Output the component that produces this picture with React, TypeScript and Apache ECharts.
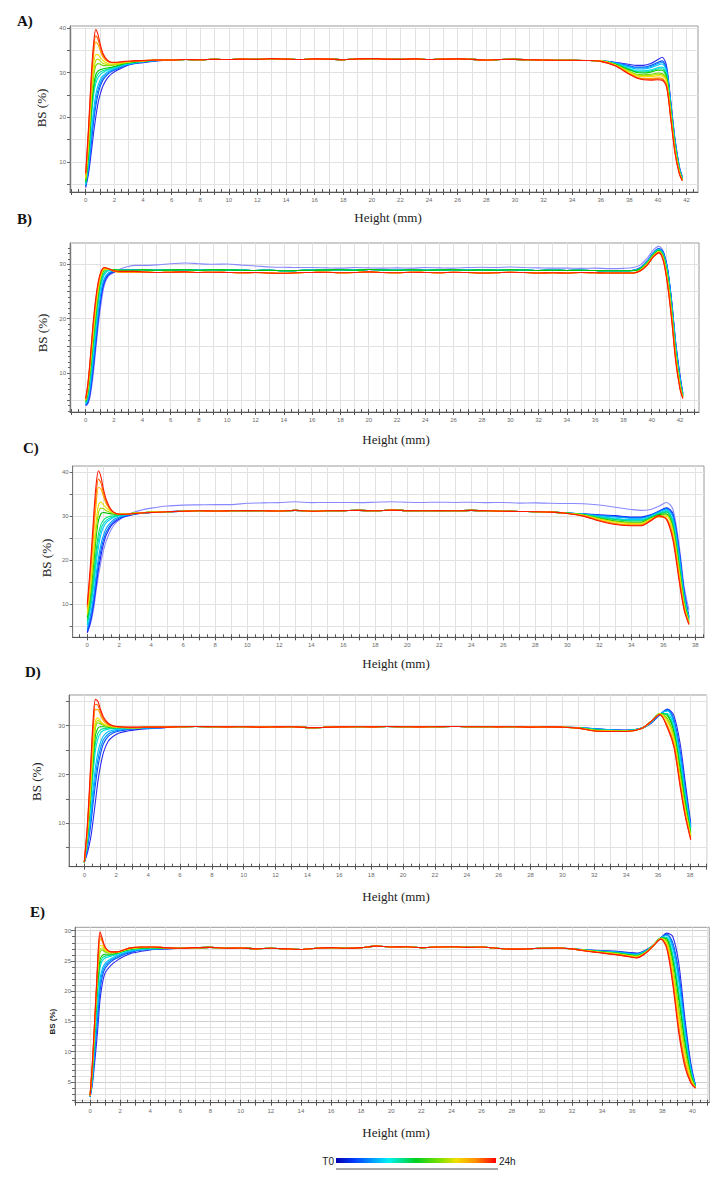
import React, { useEffect, useRef } from "react";
import * as echarts from "echarts";

// ---------------- Panel A ----------------
const A_xLabels = [0, 2, 4, 6, 8, 10, 12, 14, 16, 18, 20, 22, 24, 26, 28, 30, 32, 34, 36, 38, 40, 42];
const A_yLabels = [10, 20, 30, 40];
const A_yTicks = [5, 10, 15, 20, 25, 30, 35, 40];
const A_headX = [0, 0.2, 0.4, 0.55, 0.7, 0.85, 1.0, 1.2, 1.5, 1.8, 2.2, 2.7, 3.3, 4.0, 5.0];
const A_head = [
  [4.3, 7.5, 12.5, 16.5, 20, 23, 25, 27, 28.7, 29.7, 30.5, 31.3, 31.9, 32.2, 32.6],
  [4.6, 8.5, 14.5, 19, 22.5, 25, 26.8, 28.3, 29.5, 30.2, 30.8, 31.5, 32.0, 32.3, 32.7],
  [4.75, 9, 15.7, 20.2, 23.7, 26, 27.5, 28.8, 29.8, 30.4, 30.95, 31.6, 32.05, 32.35, 32.7],
  [4.9, 9.5, 17, 21.5, 25, 27, 28.3, 29.3, 30.1, 30.6, 31.1, 31.7, 32.1, 32.4, 32.7],
  [5.2, 11, 20, 25, 27.5, 28.8, 29.5, 30.0, 30.5, 30.9, 31.3, 31.8, 32.2, 32.5, 32.8],
  [5.35, 11.5, 21, 26, 28.5, 29.6, 30.1, 30.4, 30.75, 31.05, 31.4, 31.9, 32.25, 32.5, 32.8],
  [5.5, 12, 22, 27, 29.5, 30.3, 30.6, 30.8, 31.0, 31.2, 31.5, 32.0, 32.3, 32.5, 32.8],
  [6.0, 13.5, 24, 29, 31.5, 32, 31.9, 31.6, 31.5, 31.6, 31.8, 32.1, 32.4, 32.6, 32.8],
  [6.25, 14.2, 25, 30.2, 32.7, 33, 32.6, 32.1, 31.8, 31.75, 31.9, 32.2, 32.45, 32.6, 32.8],
  [6.5, 15, 26, 31.5, 34, 34, 33.4, 32.7, 32.1, 31.9, 32.0, 32.3, 32.5, 32.6, 32.8],
  [7.0, 16.5, 28, 34, 36.8, 36.3, 35, 33.5, 32.5, 32.2, 32.2, 32.4, 32.5, 32.6, 32.8],
  [7.3, 17.2, 29, 35.2, 38.2, 37.5, 35.8, 33.9, 32.65, 32.25, 32.25, 32.45, 32.55, 32.65, 32.8],
  [7.6, 18, 30, 36.5, 39.6, 38.6, 36.5, 34.3, 32.8, 32.3, 32.3, 32.5, 32.6, 32.7, 32.8],
];
const A_plateauX = [6, 7, 8, 9, 10, 11, 12, 13, 14, 15, 16, 17, 18, 19, 20, 21, 22, 23, 24, 25, 26, 27, 28, 29, 30, 31, 32, 33, 34, 35];
const A_plateau = [32.8, 32.9, 32.85, 32.95, 32.9, 33.0, 32.95, 33.1, 33.0, 32.9, 33.05, 33.0, 32.85, 33.05, 33.1, 33.0, 32.95, 33.05, 32.9, 33.0, 33.05, 32.95, 32.8, 32.9, 32.95, 32.85, 32.8, 32.75, 32.75, 32.7];
const A_tailX = [36, 37, 38, 38.5, 39, 39.5, 40, 40.3, 40.6, 40.9, 41.2, 41.5, 41.7];
const A_tail = [
  [32.6, 32.3, 31.8, 31.6, 31.6, 32.0, 32.9, 33.4, 31.5, 23.5, 15, 9, 6.8],
  [32.6, 32.2, 31.5, 31.2, 31.2, 31.6, 32.3, 32.6, 30.9, 23, 14.6, 8.7, 6.6],
  [32.6, 32.15, 31.35, 31.0, 31.0, 31.35, 32.0, 32.25, 30.6, 22.75, 14.4, 8.6, 6.5],
  [32.6, 32.1, 31.2, 30.8, 30.8, 31.1, 31.7, 31.9, 30.3, 22.5, 14.2, 8.5, 6.4],
  [32.6, 32.0, 30.9, 30.4, 30.4, 30.6, 31.1, 31.2, 29.7, 22, 13.8, 8.3, 6.3],
  [32.6, 31.95, 30.75, 30.2, 30.15, 30.35, 30.8, 30.85, 29.4, 21.75, 13.6, 8.2, 6.25],
  [32.6, 31.9, 30.6, 30.0, 29.9, 30.1, 30.5, 30.5, 29.1, 21.5, 13.4, 8.1, 6.2],
  [32.6, 31.8, 30.3, 29.6, 29.5, 29.6, 29.9, 29.8, 28.5, 21, 13, 7.9, 6.1],
  [32.6, 31.75, 30.15, 29.45, 29.3, 29.35, 29.6, 29.5, 28.2, 20.75, 12.8, 7.8, 6.05],
  [32.6, 31.7, 30.0, 29.3, 29.1, 29.1, 29.3, 29.2, 27.9, 20.5, 12.6, 7.7, 6.0],
  [32.5, 31.6, 29.8, 29.0, 28.7, 28.7, 28.8, 28.7, 27.3, 20, 12.2, 7.5, 5.9],
  [32.5, 31.55, 29.7, 28.9, 28.55, 28.5, 28.6, 28.5, 27.05, 19.75, 12, 7.4, 5.85],
  [32.5, 31.5, 29.6, 28.8, 28.4, 28.3, 28.4, 28.3, 26.8, 19.5, 11.8, 7.3, 5.8],
];

// ---------------- Panel B ----------------
const B_xLabels = [0, 2, 4, 6, 8, 10, 12, 14, 16, 18, 20, 22, 24, 26, 28, 30, 32, 34, 36, 38, 40, 42];
const B_yLabels = [10, 20, 30];
const B_yTicks = [5, 10, 15, 20, 25, 30];
const B_headX = [0, 0.15, 0.3, 0.5, 0.7, 0.9, 1.1, 1.3, 1.6, 2.0, 2.5, 3.0, 3.5, 4.0];
const B_head = [
  [4.0, 4.3, 5.5, 9, 14, 19, 23, 26, 27.8, 28.5, 29.2, 29.6, 29.8, 29.8],
  [4.0, 4.5, 6, 10, 15, 20, 24, 26.5, 28, 28.6, 28.9, 29.0, 29.0, 29.0],
  [4.1, 4.75, 6.5, 10.7, 15.7, 20.7, 24.6, 26.9, 28.2, 28.7, 28.9, 29.0, 29.0, 29.0],
  [4.2, 5, 7, 11.5, 16.5, 21.5, 25.2, 27.3, 28.4, 28.8, 28.9, 29.0, 29.0, 29.0],
  [4.4, 5.5, 8, 13, 18, 23, 26.3, 28.0, 28.8, 28.9, 28.9, 28.9, 28.9, 29.0],
  [4.5, 5.75, 8.5, 13.7, 18.7, 23.6, 26.8, 28.25, 28.9, 28.95, 28.9, 28.9, 28.9, 29.0],
  [4.6, 6, 9, 14.5, 19.5, 24.2, 27.2, 28.5, 29.0, 29.0, 28.9, 28.9, 28.9, 29.0],
  [4.8, 6.5, 10, 15.5, 20.5, 25, 27.8, 28.9, 29.1, 29.0, 28.9, 28.9, 28.9, 29.0],
  [4.9, 6.75, 10.4, 16, 21.1, 25.4, 28.0, 29.0, 29.1, 28.9, 28.7, 28.7, 28.7, 28.7],
  [5.0, 7, 10.8, 16.5, 21.7, 25.8, 28.2, 29.1, 29.1, 28.8, 28.6, 28.6, 28.6, 28.6],
  [5.1, 7.5, 11.5, 17.5, 22.6, 26.4, 28.5, 29.3, 29.2, 28.7, 28.5, 28.5, 28.5, 28.6],
  [5.2, 7.75, 11.75, 18, 23.1, 26.7, 28.65, 29.35, 29.2, 28.75, 28.6, 28.6, 28.6, 28.6],
  [5.3, 8, 12, 18.5, 23.5, 27, 28.8, 29.4, 29.2, 28.8, 28.7, 28.7, 28.7, 28.6],
];
const B_plateauX = [5, 6, 7, 8, 9, 10, 11, 12, 13, 14, 15, 16, 17, 18, 19, 20, 21, 22, 23, 24, 25, 26, 27, 28, 29, 30, 31, 32, 33, 34, 35, 36, 37];
const B_plateauT0 = [29.9, 30.1, 30.25, 30.1, 30.0, 30.05, 29.85, 29.7, 29.5, 29.45, 29.4, 29.4, 29.35, 29.3, 29.4, 29.35, 29.3, 29.35, 29.3, 29.4, 29.35, 29.3, 29.4, 29.45, 29.4, 29.5, 29.4, 29.35, 29.3, 29.3, 29.25, 29.3, 29.2];
const B_plateauCool = [28.9, 28.95, 29.0, 28.9, 29.0, 28.95, 28.9, 28.85, 28.9, 28.8, 28.85, 28.9, 28.95, 29.0, 28.9, 29.05, 28.95, 28.9, 29.0, 28.9, 28.95, 29.0, 28.9, 28.95, 28.9, 29.0, 28.95, 28.85, 28.9, 28.85, 28.9, 28.85, 28.8];
const B_plateauWarm = [28.5, 28.55, 28.6, 28.5, 28.55, 28.5, 28.45, 28.5, 28.4, 28.35, 28.45, 28.5, 28.55, 28.45, 28.5, 28.6, 28.5, 28.45, 28.55, 28.5, 28.45, 28.55, 28.5, 28.4, 28.45, 28.55, 28.5, 28.4, 28.45, 28.4, 28.5, 28.45, 28.4];
const B_tailX = [38, 38.7, 39.2, 39.7, 40.1, 40.5, 40.8, 41.1, 41.4, 41.7, 42.0, 42.2];
const B_tail = [
  [29.25, 29.4, 29.9, 31.2, 32.6, 33.3, 32.5, 29.5, 23, 15, 9, 6.3],
  [28.8, 28.9, 29.4, 30.7, 32.1, 32.9, 32.3, 29.5, 23.5, 15.5, 9.5, 6.2],
  [28.8, 28.9, 29.35, 30.65, 32.05, 32.85, 32.2, 29.35, 23.25, 15.25, 9.25, 6.1],
  [28.8, 28.9, 29.3, 30.6, 32.0, 32.8, 32.1, 29.2, 23, 15, 9, 6.0],
  [28.8, 28.85, 29.3, 30.5, 31.9, 32.7, 31.9, 28.8, 22.5, 14.5, 8.5, 5.9],
  [28.8, 28.85, 29.25, 30.45, 31.85, 32.65, 31.8, 28.6, 22.25, 14.25, 8.35, 5.85],
  [28.8, 28.85, 29.2, 30.4, 31.8, 32.6, 31.7, 28.4, 22, 14, 8.2, 5.8],
  [28.8, 28.8, 29.2, 30.3, 31.7, 32.5, 31.5, 28, 21.5, 13.5, 8, 5.7],
  [28.4, 28.4, 29.0, 30.2, 31.6, 32.4, 31.35, 27.75, 21.25, 13.25, 7.8, 5.6],
  [28.4, 28.4, 28.9, 30.1, 31.5, 32.3, 31.2, 27.5, 21, 13, 7.6, 5.5],
  [28.4, 28.4, 28.8, 30.0, 31.4, 32.2, 31.0, 27.0, 20.5, 12.5, 7.3, 5.4],
  [28.4, 28.4, 28.8, 29.95, 31.35, 32.15, 30.9, 26.75, 20.25, 12.25, 7.15, 5.35],
  [28.4, 28.4, 28.8, 29.9, 31.3, 32.1, 30.8, 26.5, 20, 12, 7, 5.3],
];

// ---------------- Panel C ----------------
const C_xLabels = [0, 2, 4, 6, 8, 10, 12, 14, 16, 18, 20, 22, 24, 26, 28, 30, 32, 34, 36, 38];
const C_yLabels = [10, 20, 30, 40];
const C_yTicks = [5, 10, 15, 20, 25, 30, 35, 40];
const C_headX = [0, 0.2, 0.4, 0.55, 0.7, 0.85, 1.0, 1.2, 1.5, 1.8, 2.2, 2.7, 3.3, 4.0, 5.0];
const C_head = [
  [3.5, 5.5, 9, 13, 16.5, 19.5, 22, 24.5, 27, 28.5, 29.7, 30.6, 31.3, 31.8, 32.3],
  [3.6, 6, 10, 14, 18, 21, 23.5, 25.8, 27.8, 28.9, 29.7, 30.2, 30.6, 30.8, 31.0],
  [4.0, 6.7, 11, 15.2, 19.2, 22.2, 24.5, 26.5, 28.2, 29.2, 29.85, 30.3, 30.65, 30.8, 31.0],
  [4.5, 7.5, 12, 16.5, 20.5, 23.5, 25.5, 27.3, 28.7, 29.5, 30.0, 30.4, 30.7, 30.8, 31.0],
  [5.3, 9, 14, 19, 23, 25.8, 27.4, 28.6, 29.4, 29.9, 30.2, 30.5, 30.7, 30.9, 31.0],
  [5.7, 9.7, 15.2, 20.5, 24.5, 26.9, 28.2, 29.1, 29.7, 30.0, 30.25, 30.5, 30.7, 30.9, 31.0],
  [6.2, 10.5, 16.5, 22, 26, 28, 29.0, 29.7, 30.0, 30.1, 30.3, 30.5, 30.7, 30.9, 31.0],
  [7, 12, 19, 25, 29, 30.5, 30.8, 30.7, 30.5, 30.4, 30.4, 30.6, 30.8, 30.9, 31.0],
  [7.5, 13, 20.7, 26.7, 30.7, 31.8, 31.7, 31.2, 30.75, 30.5, 30.45, 30.6, 30.8, 30.9, 31.0],
  [8, 14, 22.5, 28.5, 32.5, 33.2, 32.6, 31.8, 31.0, 30.6, 30.5, 30.6, 30.8, 30.9, 31.0],
  [9, 16.5, 26, 32.5, 36.5, 36.2, 34.6, 32.7, 31.2, 30.6, 30.4, 30.5, 30.7, 30.9, 31.0],
  [9.5, 17.7, 28, 34.7, 38.4, 37.6, 35.4, 33.1, 31.3, 30.6, 30.4, 30.5, 30.7, 30.85, 31.0],
  [10, 19, 30, 37, 40.3, 39, 36.3, 33.6, 31.4, 30.6, 30.4, 30.5, 30.7, 30.8, 31.0],
];
const C_plateauX = [6, 7, 8, 9, 10, 11, 12, 13, 14, 15, 16, 17, 18, 19, 20, 21, 22, 23, 24, 25, 26, 27, 28, 29];
const C_plateauT0 = [32.5, 32.55, 32.6, 32.6, 32.9, 33.0, 33.05, 33.25, 33.05, 33.1, 33.1, 33.05, 33.15, 33.25, 33.15, 33.1, 33.15, 33.1, 33.15, 33.05, 33.1, 32.95, 33.0, 32.9];
const C_plateauMain = [31.1, 31.2, 31.15, 31.2, 31.25, 31.2, 31.15, 31.3, 31.1, 31.2, 31.25, 31.3, 31.2, 31.35, 31.25, 31.2, 31.25, 31.2, 31.3, 31.2, 31.1, 31.05, 31.0, 30.9];
const C_tailX = [30, 31, 32, 33, 34, 34.6, 35.2, 35.7, 36.2, 36.6, 37.0, 37.3, 37.6];
const C_tail = [
  [32.85, 32.8, 32.5, 32.0, 31.5, 31.3, 31.5, 32.2, 33.1, 31.5, 23, 14, 8.7],
  [30.7, 30.5, 30.3, 30.1, 29.8, 29.8, 30.3, 31.1, 31.9, 30.5, 22, 13, 7.2],
  [30.7, 30.48, 30.2, 29.95, 29.65, 29.65, 30.2, 31.0, 31.75, 30.15, 21.5, 12.65, 7.05],
  [30.7, 30.45, 30.1, 29.8, 29.5, 29.5, 30.1, 30.9, 31.6, 29.8, 21, 12.3, 6.9],
  [30.7, 30.4, 29.9, 29.5, 29.2, 29.2, 29.9, 30.7, 31.3, 29.0, 20, 11.6, 6.6],
  [30.7, 30.38, 29.8, 29.35, 29.05, 29.05, 29.8, 30.6, 31.1, 28.6, 19.5, 11.3, 6.45],
  [30.7, 30.35, 29.7, 29.2, 28.9, 28.9, 29.7, 30.5, 30.9, 28.2, 19, 11, 6.3],
  [30.7, 30.3, 29.5, 28.9, 28.6, 28.6, 29.5, 30.3, 30.5, 27.4, 18, 10.4, 6.0],
  [30.65, 30.25, 29.4, 28.75, 28.45, 28.45, 29.4, 30.15, 30.25, 26.95, 17.5, 10.1, 5.9],
  [30.6, 30.2, 29.3, 28.6, 28.3, 28.3, 29.3, 30.0, 30.0, 26.5, 17, 9.8, 5.8],
  [30.6, 30.1, 29.1, 28.3, 28.0, 28.0, 29.1, 29.8, 29.5, 25.6, 16, 9.2, 5.6],
  [30.6, 30.05, 29.0, 28.2, 27.9, 27.9, 29.0, 29.9, 29.35, 25.05, 15.5, 8.95, 5.5],
  [30.6, 30.0, 28.9, 28.1, 27.8, 27.8, 28.9, 30.1, 29.2, 24.5, 15, 8.7, 5.4],
];

// ---------------- Panel D ----------------
const D_xLabels = [0, 2, 4, 6, 8, 10, 12, 14, 16, 18, 20, 22, 24, 26, 28, 30, 32, 34, 36, 38];
const D_yLabels = [10, 20, 30];
const D_yTicks = [5, 10, 15, 20, 25, 30, 35];
const D_headX = [0, 0.2, 0.4, 0.55, 0.7, 0.85, 1.0, 1.2, 1.5, 1.8, 2.2, 2.7, 3.3, 4.0, 5.0];
const D_head = [
  [1.9, 4, 7, 10.5, 14.5, 18.5, 21.5, 24.5, 26.8, 27.8, 28.5, 28.9, 29.2, 29.4, 29.6],
  [2.0, 5, 9.5, 14, 18, 21.5, 24, 26.3, 27.8, 28.5, 28.9, 29.2, 29.4, 29.5, 29.6],
  [2.0, 5.5, 10.7, 15.5, 19.7, 23, 25.2, 27.1, 28.3, 28.8, 29.1, 29.3, 29.45, 29.55, 29.65],
  [2.0, 6, 12, 17, 21.5, 24.5, 26.4, 27.9, 28.8, 29.1, 29.3, 29.4, 29.5, 29.6, 29.7],
  [2.0, 7, 14, 20, 25, 27.3, 28.4, 29.0, 29.3, 29.4, 29.5, 29.6, 29.6, 29.6, 29.7],
  [2.0, 7.2, 15, 21.5, 26.5, 28.4, 29.1, 29.4, 29.5, 29.5, 29.55, 29.6, 29.6, 29.65, 29.7],
  [2.0, 7.5, 16, 23, 28, 29.5, 29.8, 29.8, 29.7, 29.6, 29.6, 29.6, 29.6, 29.7, 29.7],
  [2.0, 8, 17, 24.5, 29.5, 30.6, 30.4, 30.1, 29.85, 29.7, 29.65, 29.6, 29.6, 29.7, 29.7],
  [2.0, 8.2, 17.5, 25.2, 30.2, 31.1, 30.7, 30.25, 29.9, 29.75, 29.7, 29.6, 29.6, 29.7, 29.7],
  [2.05, 8.5, 18, 26, 31, 31.6, 31.0, 30.4, 30.0, 29.8, 29.7, 29.6, 29.6, 29.7, 29.7],
  [2.1, 9.2, 20, 28.5, 33.3, 33.3, 32.3, 31.0, 30.2, 29.9, 29.7, 29.6, 29.6, 29.7, 29.7],
  [2.1, 9.6, 21, 29.7, 34.4, 34.2, 32.9, 31.4, 30.35, 29.95, 29.75, 29.65, 29.65, 29.7, 29.7],
  [2.1, 10, 22, 31, 35.4, 35.0, 33.5, 31.8, 30.5, 30.0, 29.8, 29.7, 29.7, 29.7, 29.7],
];
const D_plateauX = [6, 7, 8, 9, 10, 11, 12, 13, 14, 15, 16, 17, 18, 19, 20, 21, 22, 23, 24, 25, 26, 27, 28, 29, 30];
const D_plateau = [29.8, 29.85, 29.8, 29.75, 29.8, 29.7, 29.75, 29.8, 29.6, 29.65, 29.75, 29.8, 29.75, 29.85, 29.8, 29.75, 29.8, 29.85, 29.8, 29.8, 29.75, 29.8, 29.7, 29.75, 29.7];
const D_tailX = [31, 32, 33, 34, 35, 35.6, 36.1, 36.6, 37.0, 37.4, 37.7, 38.05];
const D_tail = [
  [29.6, 29.4, 29.2, 29.1, 29.5, 30.6, 32.2, 33.4, 32.0, 26.0, 18.5, 10.0],
  [29.6, 29.35, 29.15, 29.05, 29.5, 30.7, 32.3, 33.3, 31.2, 24.5, 17.3, 9.5],
  [29.6, 29.33, 29.13, 29.03, 29.5, 30.75, 32.35, 33.15, 30.75, 23.85, 16.75, 9.25],
  [29.6, 29.3, 29.1, 29.0, 29.5, 30.8, 32.4, 33.0, 30.3, 23.2, 16.2, 9.0],
  [29.6, 29.2, 29.05, 29.0, 29.5, 30.9, 32.5, 32.5, 29.5, 22, 15.3, 8.5],
  [29.58, 29.18, 29.03, 28.98, 29.5, 30.95, 32.5, 32.25, 29.05, 21.4, 14.85, 8.25],
  [29.55, 29.15, 29.0, 28.95, 29.5, 31.0, 32.5, 32.0, 28.6, 20.8, 14.4, 8.0],
  [29.55, 29.1, 28.95, 28.9, 29.5, 31.0, 32.5, 31.4, 27.8, 19.6, 13.5, 7.6],
  [29.52, 29.05, 28.93, 28.88, 29.5, 31.0, 32.45, 31.05, 27.4, 19.1, 13.1, 7.4],
  [29.5, 29.0, 28.9, 28.85, 29.5, 31.0, 32.4, 30.7, 27.0, 18.6, 12.7, 7.2],
  [29.5, 28.95, 28.85, 28.8, 29.5, 31.0, 32.3, 30.0, 26.2, 17.9, 12.0, 6.9],
  [29.5, 28.93, 28.83, 28.8, 29.5, 31.0, 32.3, 29.7, 25.85, 17.55, 11.75, 6.75],
  [29.5, 28.9, 28.8, 28.8, 29.5, 31.0, 32.3, 29.4, 25.5, 17.2, 11.5, 6.6],
];

// ---------------- Panel E ----------------
const E_xLabels = [0, 2, 4, 6, 8, 10, 12, 14, 16, 18, 20, 22, 24, 26, 28, 30, 32, 34, 36, 38, 40];
const E_yLabels = [5, 10, 15, 20, 25, 30];
const E_yTicks = [2, 3, 4, 5, 6, 7, 8, 9, 10, 11, 12, 13, 14, 15, 16, 17, 18, 19, 20, 21, 22, 23, 24, 25, 26, 27, 28, 29, 30];
const E_yMajor = [5, 10, 15, 20, 25, 30];
const E_headX = [0, 0.15, 0.3, 0.45, 0.55, 0.66, 0.8, 1.0, 1.4, 1.8, 2.3, 2.8, 3.4, 4.2, 5.0];
const E_head = [
  [2.5, 4.5, 8, 12, 15, 18.5, 21, 23.0, 24.3, 25.1, 25.8, 26.3, 26.6, 26.9, 27.0],
  [2.55, 5, 9.5, 14, 17, 20, 22.3, 23.8, 24.9, 25.5, 26.1, 26.5, 26.8, 27.0, 27.0],
  [2.57, 5.25, 10.2, 15, 18, 21, 23.0, 24.2, 25.15, 25.7, 26.25, 26.6, 26.85, 27.0, 27.05],
  [2.6, 5.5, 11, 16, 19, 22, 23.6, 24.6, 25.4, 25.9, 26.4, 26.7, 26.9, 27.0, 27.1],
  [2.65, 6, 12, 18, 21, 23.8, 25.0, 25.5, 25.8, 26.1, 26.6, 26.9, 27.0, 27.1, 27.1],
  [2.68, 6.25, 12.5, 18.7, 21.8, 24.5, 25.45, 25.8, 25.95, 26.2, 26.65, 26.95, 27.05, 27.15, 27.1],
  [2.7, 6.5, 13, 19.5, 22.7, 25.2, 25.9, 26.1, 26.1, 26.3, 26.7, 27.0, 27.1, 27.2, 27.1],
  [2.7, 7, 13.5, 20.5, 24, 26.4, 26.8, 26.5, 26.3, 26.4, 26.8, 27.1, 27.2, 27.2, 27.2],
  [2.72, 7.15, 13.75, 20.75, 24.5, 26.95, 27.15, 26.65, 26.35, 26.4, 26.8, 27.1, 27.22, 27.25, 27.2],
  [2.75, 7.3, 14, 21, 25, 27.5, 27.5, 26.8, 26.4, 26.4, 26.8, 27.1, 27.25, 27.3, 27.2],
  [2.8, 7.6, 14.5, 21.5, 26, 28.6, 28.2, 27.1, 26.5, 26.5, 26.9, 27.2, 27.3, 27.3, 27.2],
  [2.8, 7.8, 14.75, 21.75, 26.5, 29.2, 28.5, 27.2, 26.5, 26.5, 26.9, 27.2, 27.3, 27.3, 27.2],
  [2.8, 8, 15, 22, 27, 29.8, 28.8, 27.3, 26.5, 26.5, 26.9, 27.2, 27.3, 27.3, 27.2],
];
const E_plateauX = [6, 7, 8, 9, 10, 11, 12, 13, 14, 15, 16, 17, 18, 19, 20, 21, 22, 23, 24, 25, 26, 27, 28, 29, 30, 31, 32];
const E_plateau = [27.1, 27.2, 27.25, 27.1, 27.15, 27.0, 27.1, 27.0, 26.9, 27.1, 27.2, 27.1, 27.2, 27.45, 27.3, 27.35, 27.2, 27.3, 27.35, 27.25, 27.3, 27.1, 26.95, 27.0, 27.1, 27.15, 27.0];
const E_tailX = [33, 34, 35, 35.8, 36.3, 36.9, 37.4, 37.9, 38.3, 38.7, 39.1, 39.5, 39.9, 40.2];
const E_tail = [
  [26.85, 26.7, 26.6, 26.4, 26.3, 26.8, 27.6, 28.8, 29.6, 29.0, 24.5, 15.5, 8, 4.5],
  [26.8, 26.65, 26.5, 26.3, 26.2, 26.7, 27.6, 28.8, 29.4, 28.0, 23, 14.5, 7.5, 4.4],
  [26.8, 26.63, 26.48, 26.25, 26.15, 26.68, 27.6, 28.8, 29.3, 27.5, 22.25, 14, 7.25, 4.35],
  [26.8, 26.6, 26.45, 26.2, 26.1, 26.65, 27.6, 28.8, 29.2, 27.0, 21.5, 13.5, 7.0, 4.3],
  [26.75, 26.55, 26.35, 26.1, 26.0, 26.6, 27.6, 28.8, 28.9, 26.0, 20, 12.5, 6.6, 4.2],
  [26.75, 26.53, 26.33, 26.05, 25.95, 26.55, 27.6, 28.8, 28.75, 25.5, 19.25, 12, 6.4, 4.18],
  [26.75, 26.5, 26.3, 26.0, 25.9, 26.5, 27.6, 28.8, 28.6, 25.0, 18.5, 11.5, 6.2, 4.15],
  [26.7, 26.45, 26.2, 25.9, 25.8, 26.45, 27.55, 28.7, 28.3, 24.0, 17, 10.5, 5.8, 4.1],
  [26.7, 26.43, 26.18, 25.88, 25.75, 26.43, 27.55, 28.7, 28.1, 23.5, 16.25, 10, 5.6, 4.08],
  [26.7, 26.4, 26.15, 25.85, 25.7, 26.4, 27.55, 28.7, 27.9, 23.0, 15.5, 9.5, 5.4, 4.05],
  [26.65, 26.35, 26.05, 25.75, 25.6, 26.35, 27.5, 28.65, 27.5, 22, 14.2, 8.5, 5.1, 4.0],
  [26.63, 26.33, 26.03, 25.73, 25.55, 26.33, 27.5, 28.63, 27.25, 21.5, 13.6, 8, 4.95, 4.0],
  [26.6, 26.3, 26.0, 25.7, 25.5, 26.3, 27.5, 28.6, 27.0, 21, 13, 7.5, 4.8, 4.0],
];

// ---------------- styling ----------------
const COLORS = ["#2a2af0", "#0050ff", "#0090ff", "#00c0ff", "#00e0e0", "#00e090", "#00cc00", "#70d800", "#b8e000", "#f0e000", "#ffa800", "#ff6400", "#ff1800"];
const COLORS_T0 = ["#8888ff", "#1a1aff", "#0060ff", "#00a0ff", "#00ccff", "#00e0c0", "#00e070", "#00c000", "#a0dc00", "#e8e000", "#ffb000", "#ff7000", "#ff1800"];
const SERIF = "'Liberation Serif', 'Times New Roman', serif";
const SANS = "'Liberation Sans', Arial, sans-serif";

function steps(from: number, to: number, step: number): number[] {
  const out: number[] = [];
  for (let v = from; v <= to + 1e-9; v += step) out.push(Math.round(v * 100) / 100);
  return out;
}

const ALL0 = [0, 0, 0, 0, 0, 0, 0, 0, 0, 0, 0, 0, 0];

const PANELS = [
  {
    label: "A)", labelPos: [17, 21],
    grid: { left: 70, top: 26, width: 628, height: 166 },
    xMin: -1.1, xMax: 42.8, yMin: 3.3, yMax: 40.4,
    xLabels: A_xLabels, yLabels: A_yLabels, yTicks: A_yTicks, yMinor: null as number[] | null, yMajorGrid: null as number[] | null,
    headX: A_headX, head: A_head, plateauX: A_plateauX, plateaus: [A_plateau], plateauOf: ALL0,
    tailX: A_tailX, tail: A_tail, colors: COLORS,
    bsPos: [41.7, 108], bsSans: false, heightPos: [388, 217],
  },
  {
    label: "B)", labelPos: [17, 219],
    grid: { left: 70, top: 243, width: 629, height: 169 },
    xMin: -1.11, xMax: 43.34, yMin: 2.82, yMax: 33.92,
    xLabels: B_xLabels, yLabels: B_yLabels, yTicks: B_yTicks, yMinor: steps(3, 33, 1), yMajorGrid: null,
    headX: B_headX, head: B_head, plateauX: B_plateauX, plateaus: [B_plateauT0, B_plateauCool, B_plateauWarm],
    plateauOf: [0, 1, 1, 1, 1, 1, 1, 1, 2, 2, 2, 2, 2],
    tailX: B_tailX, tail: B_tail, colors: COLORS_T0,
    bsPos: [42.7, 333], bsSans: false, heightPos: [396, 439],
  },
  {
    label: "C)", labelPos: [23, 448],
    grid: { left: 72.7, top: 466, width: 631.3, height: 171.3 },
    xMin: -0.91, xMax: 38.54, yMin: 2.52, yMax: 41.36,
    xLabels: C_xLabels, yLabels: C_yLabels, yTicks: C_yTicks, yMinor: null, yMajorGrid: null,
    headX: C_headX, head: C_head, plateauX: C_plateauX, plateaus: [C_plateauT0, C_plateauMain],
    plateauOf: [0, 1, 1, 1, 1, 1, 1, 1, 1, 1, 1, 1, 1],
    tailX: C_tailX, tail: C_tail, colors: COLORS_T0,
    bsPos: [46.7, 558], bsSans: false, heightPos: [396, 663],
  },
  {
    label: "D)", labelPos: [25, 672],
    grid: { left: 69, top: 695, width: 637.7, height: 171.7 },
    xMin: -0.96, xMax: 39.05, yMin: 1.11, yMax: 36.29,
    xLabels: D_xLabels, yLabels: D_yLabels, yTicks: D_yTicks, yMinor: null, yMajorGrid: null,
    headX: D_headX, head: D_head, plateauX: D_plateauX, plateaus: [D_plateau], plateauOf: ALL0,
    tailX: D_tailX, tail: D_tail, colors: COLORS,
    bsPos: [36.7, 781.7], bsSans: false, heightPos: [396, 896],
  },
  {
    label: "E)", labelPos: [30, 912],
    grid: { left: 75, top: 927.3, width: 634.3, height: 175.4 },
    xMin: -1.0, xMax: 41.12, yMin: 1.58, yMax: 30.56,
    xLabels: E_xLabels, yLabels: E_yLabels, yTicks: E_yTicks, yMinor: null, yMajorGrid: E_yMajor,
    headX: E_headX, head: E_head, plateauX: E_plateauX, plateaus: [E_plateau], plateauOf: ALL0,
    tailX: E_tailX, tail: E_tail, colors: COLORS,
    bsPos: [52.7, 1021.7], bsSans: true, heightPos: [396, 1132.7],
  },
];

function curvePoints(p: any, i: number): number[][] {
  const pts: number[][] = [];
  p.headX.forEach((x: number, j: number) => pts.push([x, p.head[i][j]]));
  const pl = p.plateaus[p.plateauOf[i]];
  p.plateauX.forEach((x: number, j: number) => pts.push([x, pl[j]]));
  p.tailX.forEach((x: number, j: number) => pts.push([x, p.tail[i][j]]));
  return pts;
}

function buildOption() {
  const grid: any[] = [];
  const xAxis: any[] = [];
  const yAxis: any[] = [];
  const series: any[] = [];
  const graphic: any[] = [];

  PANELS.forEach((p, g) => {
    grid.push({ ...p.grid, show: true, borderColor: "#9a9a9a", borderWidth: 1, backgroundColor: "#fff" });
    const intTicks = steps(Math.ceil(p.xMin), Math.floor(p.xMax), 1);
    const halfTicks = steps(Math.ceil(p.xMin * 2) / 2, Math.floor(p.xMax * 2) / 2, 0.5);
    xAxis.push({
      type: "value", gridIndex: g, min: p.xMin, max: p.xMax, position: "bottom",
      axisLine: { show: true, onZero: false, lineStyle: { color: "#555", width: 1 } },
      axisTick: { show: true, customValues: intTicks, length: 3, lineStyle: { color: "#555", width: 1 } },
      axisLabel: { show: true, customValues: p.xLabels, fontSize: 6, color: "#6a6a6a", margin: 5, fontFamily: SANS },
      splitLine: { show: true, lineStyle: { color: "#e2e2e2", width: 1 } },
    });
    xAxis.push({
      type: "value", gridIndex: g, min: p.xMin, max: p.xMax, position: "bottom",
      axisLine: { show: false, onZero: false },
      axisTick: { show: true, inside: true, customValues: halfTicks, length: 3, lineStyle: { color: "#555", width: 1 } },
      axisLabel: { show: false }, splitLine: { show: false },
    });
    yAxis.push({
      type: "value", gridIndex: g, min: p.yMin, max: p.yMax, position: "left",
      axisLine: { show: true, onZero: false, lineStyle: { color: "#777", width: 1 } },
      axisTick: { show: true, customValues: p.yTicks, length: 3, lineStyle: { color: "#666", width: 1 } },
      axisLabel: { show: true, customValues: p.yLabels, fontSize: 6, color: "#6a6a6a", margin: 4, fontFamily: SANS },
      splitLine: { show: true, lineStyle: { color: "#e2e2e2", width: 1 } },
    });
    const overlayTicks = p.yMinor || p.yMajorGrid || [];
    yAxis.push({
      type: "value", gridIndex: g, min: p.yMin, max: p.yMax, position: "left",
      axisLine: { show: false, onZero: false },
      axisTick: { show: overlayTicks.length > 0, customValues: overlayTicks.length ? overlayTicks : [p.yMin], length: p.yMajorGrid ? 4 : 2, lineStyle: { color: "#666", width: 1 } },
      axisLabel: { show: false },
      splitLine: { show: !!p.yMajorGrid, lineStyle: { color: "#cfcfcf", width: 1 } },
    });

    for (let i = 0; i < p.head.length; i++) {
      series.push({
        type: "line", xAxisIndex: 2 * g, yAxisIndex: 2 * g,
        data: curvePoints(p, i), showSymbol: false, symbol: "none",
        smooth: 0.3, silent: true, z: 3 + i,
        lineStyle: { color: p.colors[i], width: 1.1 },
      });
    }

    graphic.push({
      type: "text", x: p.labelPos[0], y: p.labelPos[1],
      style: { text: p.label, fill: "#111", font: `bold 15px ${SERIF}`, align: "left", verticalAlign: "middle" },
    });
    graphic.push({
      type: "text", x: p.bsPos[0], y: p.bsPos[1], rotation: Math.PI / 2,
      style: {
        text: "BS (%)", fill: "#222",
        font: p.bsSans ? `bold 8px ${SANS}` : `13px ${SERIF}`,
        align: "center", verticalAlign: "middle",
      },
    });
    graphic.push({
      type: "text", x: p.heightPos[0], y: p.heightPos[1],
      style: { text: "Height (mm)", fill: "#222", font: `13px ${SERIF}`, align: "center", verticalAlign: "middle" },
    });
  });

  // colour bar legend
  graphic.push({
    type: "rect", shape: { x: 336, y: 1158, width: 160, height: 5 },
    style: {
      fill: new echarts.graphic.LinearGradient(0, 0, 1, 0, [
        { offset: 0, color: "#0000b0" },
        { offset: 0.12, color: "#0040ff" },
        { offset: 0.25, color: "#00b0ff" },
        { offset: 0.33, color: "#00f0f0" },
        { offset: 0.5, color: "#00d020" },
        { offset: 0.65, color: "#80e000" },
        { offset: 0.75, color: "#f0e000" },
        { offset: 0.87, color: "#ff9000" },
        { offset: 1, color: "#ff0000" },
      ]),
    },
  });
  graphic.push({
    type: "line", shape: { x1: 336, y1: 1169, x2: 498, y2: 1169 },
    style: { stroke: "#8a8a8a", lineWidth: 1.5 },
  });
  graphic.push({
    type: "text", x: 334, y: 1161,
    style: { text: "T0", fill: "#222", font: `10px ${SANS}`, align: "right", verticalAlign: "middle" },
  });
  graphic.push({
    type: "text", x: 499, y: 1161,
    style: { text: "24h", fill: "#222", font: `10px ${SANS}`, align: "left", verticalAlign: "middle" },
  });

  return { animation: false, backgroundColor: "#fff", grid, xAxis, yAxis, series, graphic };
}

export default function App() {
  const ref = useRef<HTMLDivElement>(null);
  useEffect(() => {
    document.body.style.margin = "0";
    if (!ref.current) return;
    const chart = echarts.init(ref.current, null, { renderer: "svg" });
    chart.setOption(buildOption() as any);
    return () => chart.dispose();
  }, []);
  return <div ref={ref} style={{ width: 722, height: 1179 }} />;
}
